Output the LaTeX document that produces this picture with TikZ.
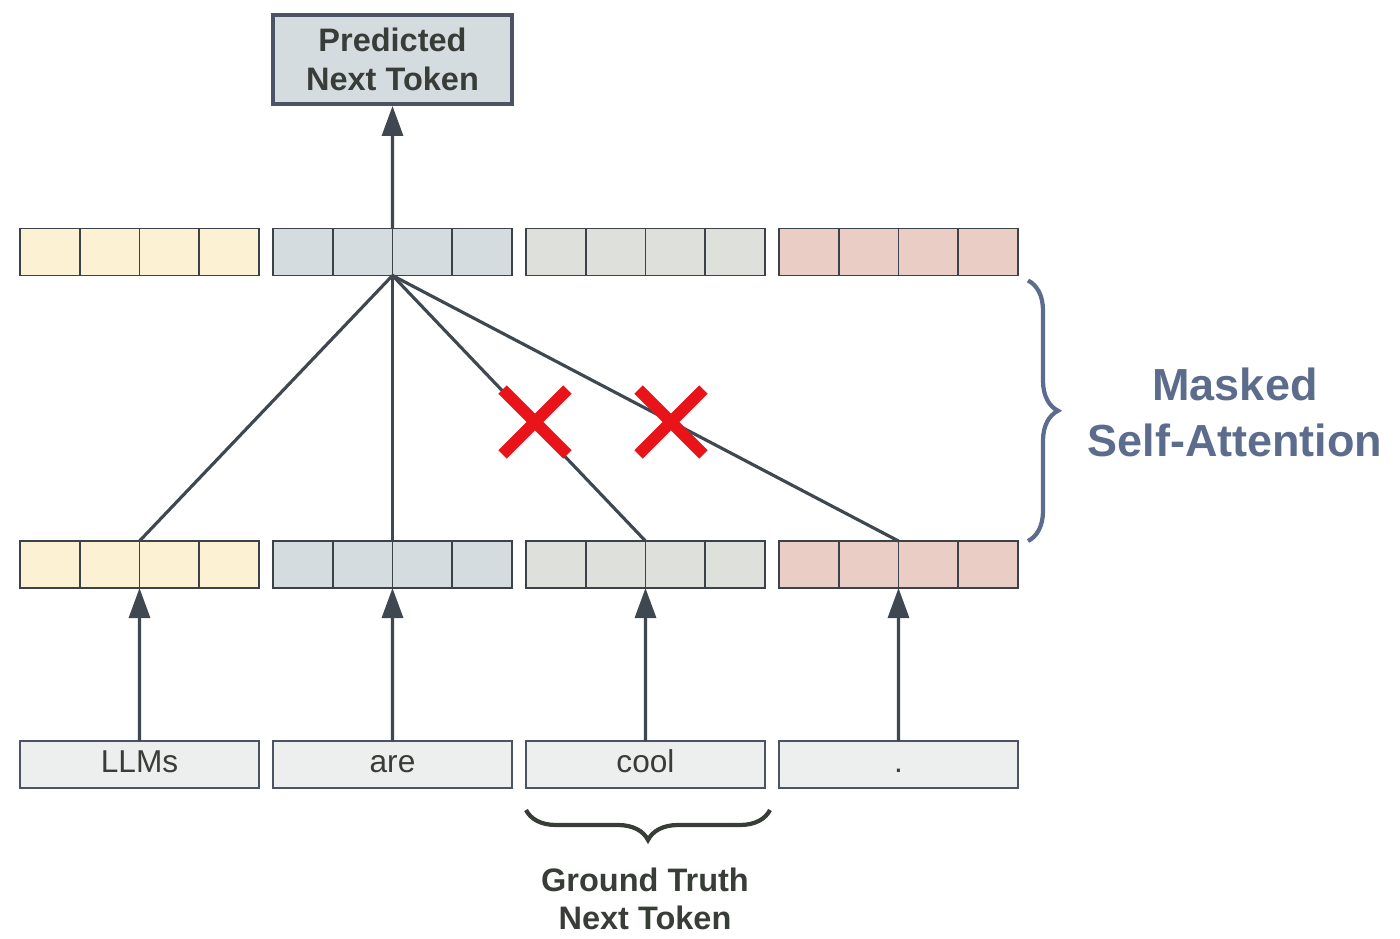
\documentclass[tikz,border=0pt]{standalone}
\usepackage{fontspec}
\setmainfont{Liberation Sans}
\usetikzlibrary{calc,shapes.misc,decorations.pathreplacing,arrows.meta}

\definecolor{cellline}{HTML}{3B4249}
\definecolor{boxline}{HTML}{4A5464}
\definecolor{edgecol}{HTML}{3F4850}
\definecolor{yel}{HTML}{FDF1D3}
\definecolor{blu}{HTML}{D5DCE0}
\definecolor{mix}{HTML}{DEE1DB}
\definecolor{pnk}{HTML}{EACDC5}
\definecolor{tokfill}{HTML}{EDEFEF}
\definecolor{xred}{HTML}{E8141A}
\definecolor{slate}{HTML}{5B6C8C}
\definecolor{textcol}{HTML}{383D38}

\begin{document}
\begin{tikzpicture}[x=0.02cm, y=-0.02cm,
    cell/.style = {draw=cellline, line width=1.1pt, minimum width=1.195cm, minimum height=0.94cm, inner sep=0, outer sep=0},
    tok/.style = {draw=boxline, fill=tokfill, line width=1.1pt, minimum width=4.78cm, minimum height=0.94cm, inner sep=0, outer sep=0,
                  text height=13pt, text depth=3.5pt, text=textcol, font=\fontsize{18}{21}\selectfont},
    link/.style = {draw=edgecol, line width=1.8pt},
    up/.style = {link, -{Triangle[length=0.6cm, width=0.42cm]}},
    cross/.style = {cross out, draw=xred, line width=6.8pt, minimum size=1.06cm, inner sep=0}]
      \useasboundingbox (0,0) rectangle (1400,938);

      % vectors, top and bottom row
      \foreach \g/\col in {1/yel, 2/blu, 3/mix, 4/pnk}
               {
                 \foreach \c in {1,...,4}
                          {
                            \node [cell, fill=\col] (t\g-\c) at ({20+253*(\g-1)+59.75*(\c-0.5)}, 252) {};
                            \node [cell, fill=\col] (b\g-\c) at ({20+253*(\g-1)+59.75*(\c-0.5)}, 564.5) {};
                          }
               }

      % input tokens
      \foreach \g/\w in {1/LLMs, 2/are, 3/cool, 4/.}
               {
                 \node [tok] (w\g) at ({20+253*(\g-1)+119.5}, 764.5) {\w};
                 \draw [up] (w\g.north) -- (b\g-2.south east);
               }

      \node [draw=boxline, fill=blu, line width=2.2pt, minimum width=4.78cm, minimum height=1.78cm, align=center,
             text=textcol, font=\bfseries\fontsize{18.5}{22}\selectfont] (pred) at (392.5, 59.5) {Predicted\\Next Token};
      \draw [up] (t2-2.north east) -- (pred.south);

      \foreach \g in {1,...,4}
               {
                 \draw [link] (t2-2.south east) -- (b\g-2.north east);
               }

      \node [cross] (x1) at (535, 422) {};
      \node [cross] (x2) at (671, 422) {};

      \draw [decorate, decoration={brace, amplitude=0.6cm}, draw=slate, line width=2.4pt]
            ([shift={(10,5)}]t4-4.south east) -- ([shift={(10,0)}]b4-4.north east);
      \node [align=center, text=slate, font=\bfseries\fontsize{25.6}{31.9}\selectfont] (msa) at (1235, 412) {Masked\\Self-Attention};

      \draw [decorate, decoration={brace, amplitude=0.6cm}, draw=textcol, line width=2.4pt]
            ([shift={(5,22)}]w3.south east) -- ([shift={(0,22)}]w3.south west);
      \node [align=center, text=textcol, font=\bfseries\fontsize{18.5}{21.6}\selectfont] (gt) at (645, 899) {Ground Truth\\Next Token};
    \end{tikzpicture}
\end{document}
